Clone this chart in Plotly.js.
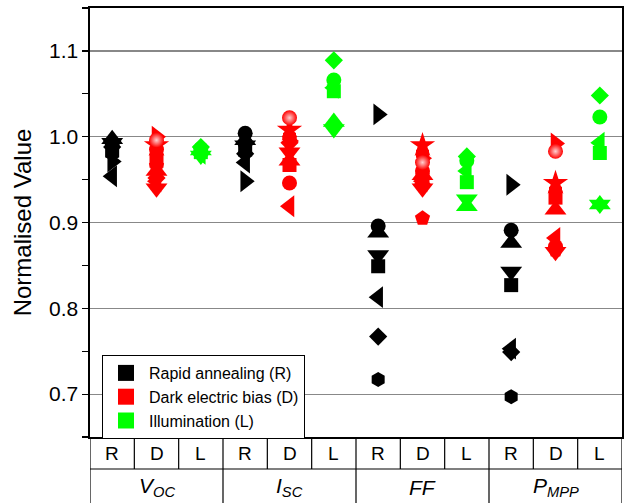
<!DOCTYPE html>
<html>
<head>
<meta charset="utf-8">
<script src="https://cdn.plot.ly/plotly-3.0.1.min.js"></script>
<style>html,body{margin:0;padding:0;background:#fff;}#chart{width:624px;height:503px;}</style>
</head>
<body>
<div id="chart"></div>
<script>
// Column labels (treatment) and parameter group labels
const treatments = ['R', 'D', 'L'];
const treatmentNames = ['Rapid annealing (R)', 'Dark electric bias (D)', 'Illumination (L)'];
const treatmentColors = ['#000000', '#ff0000', '#00ff00'];
const groupLabels = ['<i>V</i><sub><i>OC</i></sub>', '<i>I</i><sub><i>SC</i></sub>', '<i>FF</i>', '<i>P</i><sub><i>MPP</i></sub>'];

// Rapid annealing samples
const R_symbols = ['square', 'circle', 'triangle-up', 'triangle-down', 'diamond', 'triangle-left', 'triangle-right', 'hexagon'];
const R_VOC  = [0.984, 0.992, 0.997, 0.993, 0.988, 0.954, 0.971, 0.980];
const R_ISC  = [0.985, 1.004, 0.996, 0.990, 0.980, 0.970, 0.948, 0.992];
const R_FF   = [0.849, 0.896, 0.888, 0.862, 0.767, 0.813, 1.026, 0.717];
const R_PMPP = [0.827, 0.891, 0.876, 0.843, 0.749, 0.753, 0.944, 0.697];

// Dark electric bias samples (last one drawn as a shaded sphere)
const D_symbols = ['square', 'circle', 'triangle-up', 'triangle-down', 'diamond', 'triangle-left', 'triangle-right', 'hexagon', 'star', 'pentagon', 'circle'];
const D_sphere  = [false, false, false, false, false, false, false, false, false, false, true];
const D_VOC  = [0.972, 0.985, 0.960, 0.940, 0.952, 0.948, 1.000, 0.978, 0.990, 0.966, 0.996];
const D_ISC  = [0.967, 0.946, 0.972, 0.982, 0.993, 0.919, 0.995, 1.000, 1.008, 0.998, 1.022];
const D_FF   = [0.950, 0.960, 0.955, 0.940, 0.944, 0.948, 0.975, 0.980, 0.990, 0.905, 0.970];
const D_PMPP = [0.929, 0.872, 0.915, 0.866, 0.870, 0.882, 0.992, 0.937, 0.946, 0.868, 0.983];

// Illumination samples
const L_symbols = ['square', 'circle', 'triangle-up', 'triangle-down', 'diamond', 'triangle-left'];
const L_VOC  = [0.982, 0.986, 0.984, 0.978, 0.988, 0.980];
const L_ISC  = [1.053, 1.066, 1.017, 1.009, 1.089, 1.057];
const L_FF   = [0.947, 0.972, 0.919, 0.927, 0.977, 0.960];
const L_PMPP = [0.981, 1.023, 0.921, 0.921, 1.048, 0.993];

// marker size per symbol shape (style only)
const symbolSize = {'square': 14, 'circle': 15, 'triangle-up': 19, 'triangle-down': 19, 'diamond': 14,
  'triangle-left': 19, 'triangle-right': 19, 'hexagon': 15, 'star': 19, 'pentagon': 16};

const seriesData = [
  {vals: [R_VOC, R_ISC, R_FF, R_PMPP], symbols: R_symbols, sphere: R_symbols.map(() => false)},
  {vals: [D_VOC, D_ISC, D_FF, D_PMPP], symbols: D_symbols, sphere: D_sphere},
  {vals: [L_VOC, L_ISC, L_FF, L_PMPP], symbols: L_symbols, sphere: L_symbols.map(() => false)}
];

const traces = seriesData.map((s, t) => {
  const x = [], y = [], sym = [], sz = [], gt = [], gc = [];
  s.vals.forEach((arr, g) => {
    arr.forEach((v, i) => {
      x.push(g * 3 + t);
      y.push(v);
      sym.push(s.symbols[i]);
      sz.push(symbolSize[s.symbols[i]]);
      gt.push(s.sphere[i] ? 'radial' : 'none');
      gc.push(s.sphere[i] ? '#ffd0d0' : treatmentColors[t]);
    });
  });
  return {
    type: 'scatter', mode: 'markers', x: x, y: y, name: treatmentNames[t],
    marker: {symbol: sym, size: sz, color: treatmentColors[t], opacity: 1, line: {width: 0},
             gradient: {type: gt, color: gc}},
    cliponaxis: false
  };
});

const nCols = 12;
const rowY = -32 / 429;
const botY = -70 / 429;
const shapes = [];
for (let i = 0; i <= nCols; i++) {
  shapes.push({type: 'line', xref: 'x', yref: 'paper', x0: i - 0.5, x1: i - 0.5, y0: 0, y1: rowY, line: {color: '#000', width: 1.2}});
}
for (let g = 0; g <= 4; g++) {
  shapes.push({type: 'line', xref: 'x', yref: 'paper', x0: g * 3 - 0.5, x1: g * 3 - 0.5, y0: rowY, y1: botY, line: {color: '#000', width: 1.2}});
}
shapes.push({type: 'line', xref: 'x', yref: 'paper', x0: -0.5, x1: 11.5, y0: rowY, y1: rowY, line: {color: '#000', width: 1.2}});

const annotations = [];
for (let i = 0; i < nCols; i++) {
  annotations.push({xref: 'x', yref: 'paper', x: i, y: -16 / 429, text: treatments[i % 3], showarrow: false,
    xanchor: 'center', yanchor: 'middle', font: {size: 19, color: '#000'}});
}
groupLabels.forEach((lab, g) => {
  annotations.push({xref: 'x', yref: 'paper', x: g * 3 + 1, y: -50 / 429, text: lab, showarrow: false,
    xanchor: 'center', yanchor: 'middle', font: {size: 21, color: '#000'}});
});

const layout = {
  width: 624, height: 503,
  margin: {l: 90, r: 2, t: 8, b: 66},
  paper_bgcolor: '#fff', plot_bgcolor: '#fff',
  font: {family: 'Liberation Sans, Arial, sans-serif', color: '#000'},
  showlegend: true,
  legend: {x: 12 / 532, y: (437 - 355) / 429, xanchor: 'left', yanchor: 'top', itemwidth: 36,
           bordercolor: '#000', borderwidth: 1, bgcolor: '#fff', font: {size: 16}, tracegroupgap: 0},
  xaxis: {range: [-0.5, 11.5], showticklabels: false, ticks: '', showgrid: false, zeroline: false,
          showline: true, mirror: true, linecolor: '#000', linewidth: 1.6, fixedrange: true},
  yaxis: {range: [0.65, 1.15], tick0: 0.7, dtick: 0.1, tickformat: '.1f', ticks: 'outside', ticklen: 6, tickwidth: 1.2,
          tickcolor: '#000', showline: true, mirror: true, linecolor: '#000', linewidth: 1.6,
          showgrid: true, gridcolor: '#888', gridwidth: 1.2, zeroline: false,
          minor: {dtick: 0.05, tick0: 0.65, ticks: 'outside', ticklen: 6, tickcolor: '#000', showgrid: false},
          tickfont: {size: 21}, title: {text: 'Normalised Value', font: {size: 24}, standoff: 10}},
  shapes: shapes, annotations: annotations
};

Plotly.newPlot('chart', traces, layout, {displayModeBar: false, staticPlot: true});
</script>
</body>
</html>
